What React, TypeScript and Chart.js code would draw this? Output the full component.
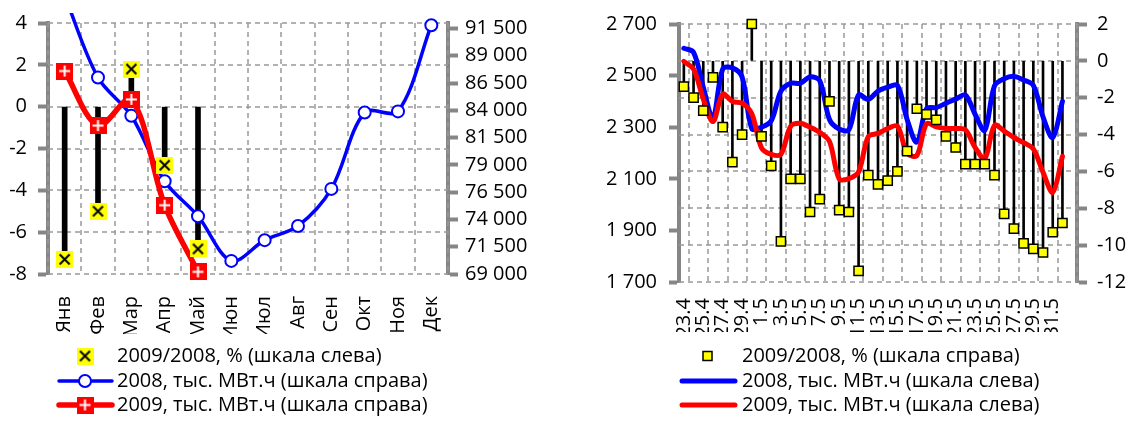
import React, { useEffect, useRef } from 'react';
import { Chart, registerables } from 'chart.js';

Chart.register(...registerables);

const FONT = '"Open Sans", "Noto Sans", sans-serif';
const GRID = '#999999';
const AXIS = '#868686';
const DASH = [5, 4];

// ---------- Left chart (monthly) ----------
const months = ['Янв', 'Фев', 'Мар', 'Апр', 'Май', 'Июн', 'Июл', 'Авг', 'Сен', 'Окт', 'Ноя', 'Дек'];
const monthPct = [-7.3, -5.0, 1.8, -2.8, -6.8, null, null, null, null, null, null, null];
const month2008 = [94500, 87000, 83500, 77500, 74300, 70200, 72100, 73400, 76800, 83800, 83900, 91800];
const month2009 = [87600, 82600, 85000, 75300, 69200, null, null, null, null, null, null, null];
const leftPctTicks = [-8, -6, -4, -2, 0, 2, 4];
const leftMwTicks = [69000, 71500, 74000, 76500, 79000, 81500, 84000, 86500, 89000, 91500];

// ---------- Right chart (daily) ----------
const days = [
  '23.4', '24.4', '25.4', '26.4', '27.4', '28.4', '29.4', '30.4',
  '1.5', '2.5', '3.5', '4.5', '5.5', '6.5', '7.5', '8.5', '9.5', '10.5',
  '11.5', '12.5', '13.5', '14.5', '15.5', '16.5', '17.5', '18.5', '19.5', '20.5',
  '21.5', '22.5', '23.5', '24.5', '25.5', '26.5', '27.5', '28.5', '29.5', '30.5',
  '31.5', '1.6', ''
];
const dayPct = [
  -1.4, -2.0, -2.7, -0.9, -3.6, -5.5, -4.0, 2.0, -4.1, -5.7,
  -9.8, -6.4, -6.4, -8.2, -7.5, -2.2, -8.1, -8.2, -11.4, -6.2,
  -6.7, -6.5, -6.0, -4.9, -2.6, -2.9, -3.2, -4.1, -4.7, -5.6,
  -5.6, -5.6, -6.2, -8.3, -9.1, -9.9, -10.2, -10.4, -9.3, -8.8
];
const day2008 = [
  2606, 2590, 2455, 2335, 2525, 2530, 2495, 2295, 2300, 2325,
  2440, 2470, 2470, 2495, 2480, 2330, 2293, 2290, 2425, 2408,
  2440, 2455, 2462, 2330, 2242, 2372, 2376, 2393, 2409, 2425,
  2350, 2288, 2460, 2488, 2497, 2483, 2462, 2340, 2260, 2400
];
const day2009 = [
  2555, 2525, 2410, 2322, 2428, 2400, 2393, 2352, 2220, 2195,
  2195, 2303, 2315, 2300, 2280, 2245, 2100, 2101, 2127, 2263,
  2276, 2295, 2304, 2200, 2190, 2314, 2301, 2295, 2295, 2290,
  2222, 2178, 2307, 2285, 2260, 2240, 2216, 2125, 2048, 2187
];
const rightMwTicks = [1700, 1900, 2100, 2300, 2500, 2700];
const rightPctTicks = [-12, -10, -8, -6, -4, -2, 0, 2];

const leftLegend = ['2009/2008, % (шкала слева)', '2008, тыс. МВт.ч (шкала справа)', '2009, тыс. МВт.ч (шкала справа)'];
const rightLegend = ['2009/2008, % (шкала справа)', '2008, тыс. МВт.ч (шкала слева)', '2009, тыс. МВт.ч (шкала слева)'];

const fmt = (v: number) => String(v).replace(/\B(?=(\d{3})+(?!\d))/g, ' ');

function makeXMarker() {
  const c = document.createElement('canvas');
  c.width = 17; c.height = 17;
  const g = c.getContext('2d')!;
  g.fillStyle = '#ffff00';
  g.fillRect(0, 0, 17, 17);
  g.strokeStyle = '#000';
  g.lineWidth = 2;
  g.beginPath();
  g.moveTo(3.5, 3.5); g.lineTo(13.5, 13.5);
  g.moveTo(13.5, 3.5); g.lineTo(3.5, 13.5);
  g.stroke();
  return c;
}

function makePlusMarker() {
  const c = document.createElement('canvas');
  c.width = 17; c.height = 17;
  const g = c.getContext('2d')!;
  g.fillStyle = '#ff0000';
  g.fillRect(0, 0, 17, 17);
  g.strokeStyle = '#fff';
  g.lineWidth = 2;
  g.beginPath();
  g.moveTo(3, 8.5); g.lineTo(14, 8.5);
  g.moveTo(8.5, 3); g.lineTo(8.5, 14);
  g.stroke();
  return c;
}

const tickFont = { family: FONT, size: 20 };

// dashed grid drawn from the library's own scales
function gridPlugin(yId: string, every: number, parity: number) {
  return {
    id: 'dashedGrid',
    beforeDatasetsDraw(chart: any) {
      const { ctx, chartArea: a } = chart;
      const ys = chart.scales[yId];
      const xs = chart.scales.x;
      ctx.save();
      ctx.strokeStyle = GRID;
      ctx.lineWidth = 1.5;
      ctx.lineCap = 'butt';
      ctx.setLineDash(DASH);
      ys.ticks.forEach((t: any) => {
        const y = Math.round(ys.getPixelForValue(t.value));
        ctx.beginPath(); ctx.moveTo(a.left, y); ctx.lineTo(a.right, y); ctx.stroke();
      });
      const n = xs.ticks.length;
      for (let i = 0; i <= n; i++) {
        if ((i - parity) % every !== 0 || i - parity < 0) continue;
        const x = Math.round(xs.getPixelForValue(i - 0.5));
        ctx.beginPath(); ctx.moveTo(x, a.top); ctx.lineTo(x, a.bottom); ctx.stroke();
      }
      ctx.restore();
    },
  };
}

function legendPlugin(texts: string[], textX: number, ys: number[], drawers: ((ctx: CanvasRenderingContext2D, y: number) => void)[]) {
  return {
    id: 'customLegend',
    afterDraw(chart: any) {
      const ctx: CanvasRenderingContext2D = chart.ctx;
      ctx.save();
      texts.forEach((t, i) => {
        ctx.save();
        drawers[i](ctx, ys[i]);
        ctx.restore();
        ctx.fillStyle = '#000';
        ctx.font = `20px ${FONT}`;
        ctx.textAlign = 'left';
        ctx.textBaseline = 'middle';
        ctx.fillText(t, textX, ys[i]);
      });
      ctx.restore();
    },
  };
}

function yAxis(extra: any) {
  return {
    type: 'linear',
    grid: { drawOnChartArea: false, color: AXIS, tickColor: AXIS, tickWidth: 4, tickLength: 10 },
    border: { color: AXIS, width: 4 },
    ...extra,
  };
}

function leftConfig(): any {
  const xImg = makeXMarker();
  const plusImg = makePlusMarker();
  const ys = [356, 381, 405];
  const drawers = [
    (ctx: CanvasRenderingContext2D, y: number) => { ctx.drawImage(xImg, 85 - 8.5, y - 8.5); },
    (ctx: CanvasRenderingContext2D, y: number) => {
      ctx.strokeStyle = '#0000ff'; ctx.lineWidth = 3.5; ctx.lineCap = 'round';
      ctx.beginPath(); ctx.moveTo(59, y); ctx.lineTo(112, y); ctx.stroke();
      ctx.fillStyle = '#fff'; ctx.lineWidth = 2;
      ctx.beginPath(); ctx.arc(85, y, 6, 0, Math.PI * 2); ctx.fill(); ctx.stroke();
    },
    (ctx: CanvasRenderingContext2D, y: number) => {
      ctx.strokeStyle = '#ff0000'; ctx.lineWidth = 5.5; ctx.lineCap = 'round';
      ctx.beginPath(); ctx.moveTo(59, y); ctx.lineTo(112, y); ctx.stroke();
      ctx.drawImage(plusImg, 85 - 8.5, y - 8.5);
    },
  ];
  return {
    type: 'line',
    data: {
      labels: months,
      datasets: [
        {
          label: leftLegend[0], data: monthPct, yAxisID: 'y', showLine: false,
          pointStyle: xImg, pointRadius: 8, clip: false,
        },
        {
          label: leftLegend[2], data: month2009, yAxisID: 'y1',
          borderColor: '#ff0000', borderWidth: 5.5, tension: 0.33,
          borderCapStyle: 'round', borderJoinStyle: 'round',
          pointStyle: plusImg, pointRadius: 8, clip: false,
        },
        {
          label: leftLegend[1], data: month2008, yAxisID: 'y1',
          borderColor: '#0000ff', borderWidth: 3.5, tension: 0.33,
          borderCapStyle: 'round', borderJoinStyle: 'round',
          pointStyle: 'circle', pointRadius: 6, pointBorderWidth: 2,
          pointBackgroundColor: '#ffffff', pointBorderColor: '#0000ff',
          clip: { left: 8, right: 8, top: 10, bottom: 8 },
        },
        {
          type: 'bar', label: 'bars', data: monthPct.map(v => (v == null ? null : [0, v])),
          yAxisID: 'y', backgroundColor: '#000', borderWidth: 0, barThickness: 5,
        },
      ],
    },
    options: {
      responsive: false, animation: false, devicePixelRatio: 1, events: [],
      layout: { padding: { top: 18, bottom: 87, left: 0, right: 0 } },
      plugins: { legend: { display: false }, tooltip: { enabled: false } },
      scales: {
        x: {
          type: 'category', offset: true,
          grid: { display: false, offset: true },
          border: { display: false },
          ticks: { minRotation: 90, maxRotation: 90, padding: 14, autoSkip: false, font: tickFont, color: '#000' },
          afterFit: (s: any) => { s.height = 60; },
        },
        y: yAxis({
          position: 'left', min: -8, max: 4,
          afterBuildTicks: (s: any) => { s.ticks = leftPctTicks.map(v => ({ value: v })); },
          ticks: { padding: 11, font: tickFont, color: '#000', autoSkip: false },
          afterFit: (s: any) => { s.width = 48; },
        }),
        y1: yAxis({
          position: 'right', min: 69000, max: 92000,
          afterBuildTicks: (s: any) => { s.ticks = leftMwTicks.map(v => ({ value: v })); },
          ticks: { padding: 7, font: tickFont, color: '#000', autoSkip: false, callback: (v: number) => fmt(v) },
          afterFit: (s: any) => { s.width = 122; },
        }),
      },
    },
    plugins: [gridPlugin('y', 1, 0), legendPlugin([leftLegend[0], leftLegend[1], leftLegend[2]], 117, ys, drawers)],
  };
}

function rightConfig(): any {
  const ys = [356, 381, 405];
  const drawers = [
    (ctx: CanvasRenderingContext2D, y: number) => {
      ctx.fillStyle = '#ffff00'; ctx.strokeStyle = '#000'; ctx.lineWidth = 1.5;
      ctx.fillRect(137.5 - 4.5, y - 4.5, 9, 9); ctx.strokeRect(137.5 - 4.5, y - 4.5, 9, 9);
    },
    (ctx: CanvasRenderingContext2D, y: number) => {
      ctx.strokeStyle = '#0000ff'; ctx.lineWidth = 5; ctx.lineCap = 'round';
      ctx.beginPath(); ctx.moveTo(112, y); ctx.lineTo(165, y); ctx.stroke();
    },
    (ctx: CanvasRenderingContext2D, y: number) => {
      ctx.strokeStyle = '#ff0000'; ctx.lineWidth = 5; ctx.lineCap = 'round';
      ctx.beginPath(); ctx.moveTo(112, y); ctx.lineTo(165, y); ctx.stroke();
    },
  ];
  return {
    type: 'line',
    data: {
      labels: days,
      datasets: [
        {
          label: rightLegend[0], data: dayPct, yAxisID: 'y2', showLine: false,
          pointStyle: 'rect', pointRadius: 6.5, pointBorderWidth: 1.5,
          pointBackgroundColor: '#ffff00', pointBorderColor: '#000', clip: false,
        },
        {
          label: rightLegend[2], data: day2009, yAxisID: 'y',
          borderColor: '#ff0000', borderWidth: 5, tension: 0.33, pointRadius: 0,
          borderCapStyle: 'round', borderJoinStyle: 'round',
        },
        {
          label: rightLegend[1], data: day2008, yAxisID: 'y',
          borderColor: '#0000ff', borderWidth: 5, tension: 0.33, pointRadius: 0,
          borderCapStyle: 'round', borderJoinStyle: 'round',
        },
        {
          type: 'bar', label: 'drops', data: dayPct.map(v => [0, v]),
          yAxisID: 'y2', backgroundColor: '#000', borderWidth: 0, barThickness: 2,
        },
      ],
    },
    options: {
      responsive: false, animation: false, devicePixelRatio: 1, events: [],
      layout: { padding: { top: 18, bottom: 89, left: 0, right: 0 } },
      plugins: { legend: { display: false }, tooltip: { enabled: false } },
      scales: {
        x: {
          type: 'category', offset: true,
          grid: { display: false, offset: true },
          border: { display: false },
          ticks: {
            minRotation: 90, maxRotation: 90, padding: 8, autoSkip: false, font: tickFont, color: '#000',
            callback: (_v: any, i: number) => (i % 2 === 0 ? days[i] : ''),
          },
          afterFit: (s: any) => { s.height = 50; },
        },
        y: yAxis({
          position: 'left', min: 1700, max: 2700,
          afterBuildTicks: (s: any) => { s.ticks = rightMwTicks.map(v => ({ value: v })); },
          ticks: { padding: 12, font: tickFont, color: '#000', autoSkip: false, callback: (v: number) => fmt(v) },
          afterFit: (s: any) => { s.width = 109; },
        }),
        y2: yAxis({
          position: 'right', min: -12, max: 2,
          afterBuildTicks: (s: any) => { s.ticks = rightPctTicks.map(v => ({ value: v })); },
          ticks: { padding: 10, font: tickFont, color: '#000', autoSkip: false },
          afterFit: (s: any) => { s.width = 59; },
        }),
      },
    },
    plugins: [gridPlugin('y2', 2, 1), legendPlugin([rightLegend[0], rightLegend[1], rightLegend[2]], 172, ys, drawers)],
  };
}

export default function App() {
  const leftRef = useRef<HTMLCanvasElement>(null);
  const rightRef = useRef<HTMLCanvasElement>(null);
  useEffect(() => {
    const c1 = new Chart(leftRef.current!, leftConfig());
    const c2 = new Chart(rightRef.current!, rightConfig());
    return () => { c1.destroy(); c2.destroy(); };
  }, []);
  return (
    <div style={{ position: 'fixed', left: 0, top: 0, width: 1136, height: 421, background: '#fff' }}>
      <canvas ref={leftRef} width={570} height={421} style={{ position: 'absolute', left: 0, top: 0, width: 570, height: 421 }} />
      <canvas ref={rightRef} width={566} height={421} style={{ position: 'absolute', left: 570, top: 0, width: 566, height: 421 }} />
    </div>
  );
}
